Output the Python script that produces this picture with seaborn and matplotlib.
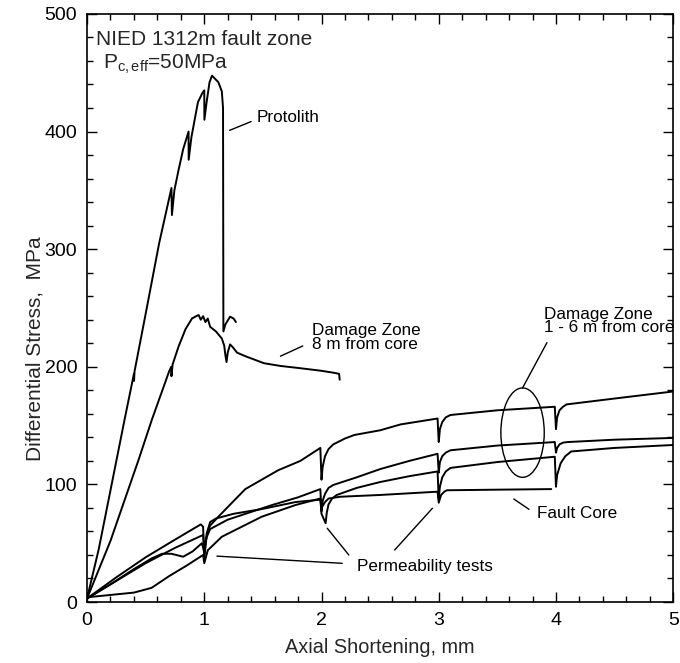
import numpy as np
import pandas as pd
import matplotlib
matplotlib.use("Agg")
import matplotlib.pyplot as plt
from matplotlib.patches import Ellipse
from matplotlib.ticker import MultipleLocator
import seaborn as sns

# ---------------- data ----------------
protolith_x = [0.0, 0.1, 0.25, 0.32, 0.40, 0.401, 0.405, 0.5, 0.615, 0.72, 0.724, 0.745, 0.78, 0.82,
               0.866, 0.867, 0.89, 0.946, 0.985, 1.0, 1.001, 1.02, 1.045, 1.066, 1.09, 1.12, 1.15,
               1.16, 1.162, 1.163, 1.18, 1.22, 1.25, 1.27]
protolith_y = [3, 45, 120, 155, 194, 188, 196, 245, 305, 352, 329, 350, 367, 385,
               400, 376, 395, 425, 433, 435, 410, 425, 442, 447.5, 445, 442, 434,
               420, 300, 230, 236, 242.6, 241, 238]

dz8_x = [0.0, 0.2, 0.44, 0.553, 0.70, 0.718, 0.72, 0.73, 0.78, 0.84, 0.895, 0.93, 0.952, 0.97,
         0.99, 1.01, 1.03, 1.05, 1.1, 1.15, 1.17, 1.18, 1.19, 1.2, 1.22, 1.24, 1.28, 1.35,
         1.51, 1.65, 1.8, 1.99, 2.1, 2.15, 2.155]
dz8_y = [3, 52, 121, 155, 196, 200, 192, 202, 217, 232, 241, 243, 244, 240,
         243, 238, 241, 234, 230, 224, 218, 210, 204, 212, 219, 217, 212, 209,
         203, 200.7, 199, 196.7, 195, 194, 189]

dzA_x = [0.0, 0.25, 0.5, 0.75, 0.99, 1.0, 1.03, 1.05, 1.12, 1.35, 1.63, 1.82, 1.99, 2.0, 2.01,
         2.03, 2.06, 2.1, 2.2, 2.28, 2.5, 2.675, 2.99, 3.0, 3.01, 3.03, 3.06, 3.1, 3.5,
         3.99, 4.0, 4.01, 4.03, 4.06, 4.09, 4.5, 5.0]
dzA_y = [3, 18, 33, 46, 57, 46, 60, 65, 72.5, 96, 112, 120, 131, 104, 115,
         124, 130, 134, 139, 142, 146, 151, 156, 136, 147, 153, 157, 159, 163,
         166, 147, 157, 163, 166, 168, 173, 179]

dzB_x = [0.0, 0.2, 0.4, 0.55, 0.64, 0.72, 0.82, 0.9, 0.98, 1.0, 1.02, 1.05, 1.2, 1.58, 1.8,
         1.99, 2.0, 2.01, 2.03, 2.06, 2.1, 2.3, 2.5, 2.75, 2.99, 3.0, 3.01, 3.03, 3.06, 3.1,
         3.5, 3.99, 4.0, 4.01, 4.03, 4.06, 4.1, 4.5, 5.0]
dzB_y = [3, 15, 28, 37, 41, 41, 38.5, 43, 50, 42, 55, 62, 70, 82.5, 89,
         96, 77, 86, 92, 97, 99.5, 106, 113, 120, 126, 110, 119, 124, 127, 129,
         133, 136, 127, 131, 134, 135.5, 136, 138, 139.5]

dzC_x = [0.0, 0.2, 0.4, 0.55, 0.7, 0.85, 0.99, 1.0, 1.03, 1.15, 1.49, 1.78, 1.99, 2.0, 2.035,
         2.045, 2.06, 2.09, 2.13, 2.3, 2.5, 2.75, 2.99, 3.0, 3.01, 3.03, 3.06, 3.1, 3.5,
         3.99, 4.0, 4.01, 4.04, 4.08, 4.13, 4.5, 5.0]
dzC_y = [4, 6, 8, 12, 22, 31, 40, 33, 44, 55.5, 72.5, 82.5, 88, 75, 67,
         76, 83, 88, 91, 97, 102, 107, 111, 88, 98, 106, 111, 114, 119,
         123.5, 98, 108, 118, 124, 128, 131, 133.5]

fc_x = [0.0, 0.25, 0.5, 0.75, 0.97, 0.99, 1.0, 1.02, 1.05, 1.1, 1.25, 1.49, 1.78, 1.99, 2.0,
        2.03, 2.06, 2.16, 2.5, 2.99, 3.0, 3.02, 3.05, 3.07, 3.5, 3.96]
fc_y = [3, 21, 38, 53, 66, 64, 36, 58, 68, 71, 75, 79, 85, 87, 80,
        85, 88, 89.5, 91, 93.8, 84.4, 91, 94, 95, 95.5, 96]

curves = {
    "Protolith": (protolith_x, protolith_y),
    "DZ 8 m": (dz8_x, dz8_y),
    "DZ A": (dzA_x, dzA_y),
    "DZ B": (dzB_x, dzB_y),
    "DZ C": (dzC_x, dzC_y),
    "Fault Core": (fc_x, fc_y),
}

x_ticks = [0, 1, 2, 3, 4, 5]
y_ticks = [0, 100, 200, 300, 400, 500]

frames = []
for name, (xs, ys) in curves.items():
    frames.append(pd.DataFrame({"curve": name, "order": np.arange(len(xs)),
                                "shortening": xs, "stress": ys}))
df = pd.concat(frames, ignore_index=True)

# ---------------- style ----------------
sns.set_theme(style="ticks")
plt.rcParams["font.family"] = ["Liberation Sans", "DejaVu Sans"]
plt.rcParams["mathtext.fontset"] = "custom"
plt.rcParams["mathtext.rm"] = "Liberation Sans"
plt.rcParams["mathtext.it"] = "Liberation Sans"

fig = plt.figure(figsize=(6.8, 6.63), dpi=100)
ax = fig.add_axes([0.128, 0.092, 0.862, 0.887])

sns.lineplot(data=df, x="shortening", y="stress", units="curve", estimator=None,
             sort=False, color="black", linewidth=1.4, ax=ax, legend=False)

ax.set_xlim(0, 5)
ax.set_ylim(0, 500)
ax.set_xticks(x_ticks)
ax.set_yticks(y_ticks)
ax.xaxis.set_minor_locator(MultipleLocator(0.2))
ax.yaxis.set_minor_locator(MultipleLocator(20))
ax.tick_params(which="both", direction="in", top=True, right=True, width=1.0, colors="black")
ax.tick_params(which="major", length=7.5, labelsize=14, pad=7)
ax.tick_params(which="minor", length=4)
for s in ax.spines.values():
    s.set_linewidth(1.2)
    s.set_color("black")

ax.set_xlabel("Axial Shortening, mm", fontsize=14.3, labelpad=7)
ax.set_ylabel("Differential Stress,  MPa", fontsize=15)
ax.yaxis.set_label_coords(-0.072, 0.43)

# ---------------- annotations ----------------
tk = dict(color="black", fontsize=12.3)
ax.text(0.077, 478, "NIED 1312m fault zone", fontsize=15, va="center", ha="left")
ax.text(0.14, 457, r"P$_{\mathregular{c,eff}}$=50MPa", fontsize=15, va="center", ha="left")

ax.text(1.45, 412, "Protolith", va="center", ha="left", **tk)
ax.plot([1.216, 1.40], [401, 408.5], color="black", lw=1.0)

ax.text(1.92, 225, "Damage Zone\n8 m from core", va="center", ha="left", linespacing=0.9, **tk)
ax.plot([1.65, 1.84], [209, 217.7], color="black", lw=1.0)

ax.text(3.90, 239, "Damage Zone\n1 - 6 m from core", va="center", ha="left", linespacing=0.9, **tk)
ax.plot([3.923, 3.715], [220.5, 182], color="black", lw=1.0)
ax.add_patch(Ellipse((3.715, 144), 0.37, 76, fill=False, edgecolor="black", lw=1.0))

ax.text(3.84, 75, "Fault Core", va="center", ha="left", **tk)
ax.plot([3.64, 3.77], [87.6, 78.8], color="black", lw=1.0)

ax.text(2.30, 30, "Permeability tests", va="center", ha="left", **tk)
ax.plot([2.177, 1.108], [32.9, 39], color="black", lw=1.0)
ax.plot([2.233, 2.049], [40, 62.7], color="black", lw=1.0)
ax.plot([2.624, 2.946], [44.2, 79.7], color="black", lw=1.0)

fig.savefig("out.png", dpi=100)
